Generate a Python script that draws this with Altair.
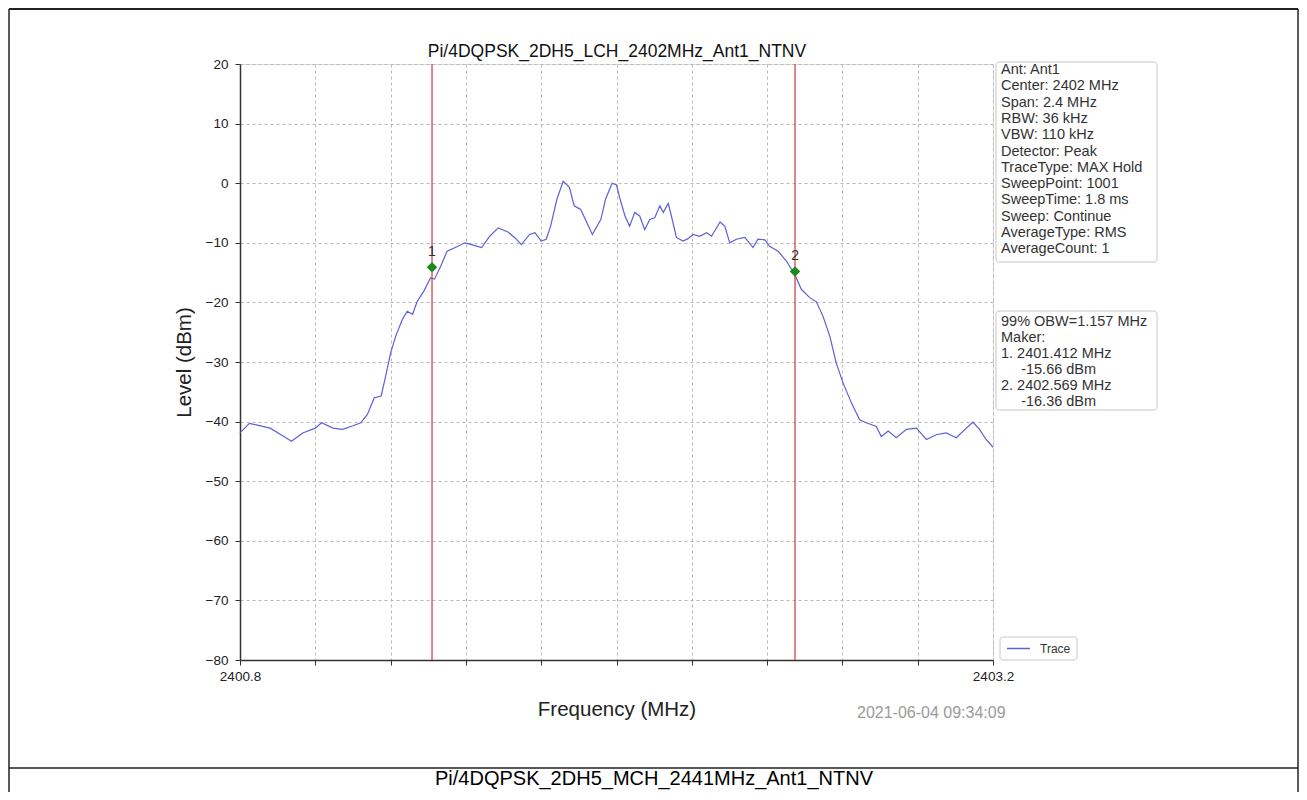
import altair as alt
import pandas as pd

# ---------------- data ----------------
freq = [2400.800, 2400.830, 2400.896, 2400.940, 2400.964, 2401.000, 2401.040, 2401.060,
        2401.096, 2401.127, 2401.160, 2401.185, 2401.206, 2401.228, 2401.250, 2401.264,
        2401.280, 2401.296, 2401.317, 2401.333, 2401.350, 2401.365, 2401.386, 2401.407,
        2401.420, 2401.440, 2401.460, 2401.486, 2401.517, 2401.538, 2401.570, 2401.596,
        2401.623, 2401.654, 2401.675, 2401.697, 2401.723, 2401.740, 2401.760, 2401.776,
        2401.790, 2401.810, 2401.830, 2401.850, 2401.865, 2401.886, 2401.923, 2401.950,
        2401.965, 2401.986, 2402.000, 2402.010, 2402.027, 2402.042, 2402.058, 2402.074,
        2402.090, 2402.106, 2402.122, 2402.138, 2402.149, 2402.165, 2402.175, 2402.191,
        2402.212, 2402.228, 2402.244, 2402.265, 2402.287, 2402.303, 2402.330, 2402.345,
        2402.361, 2402.382, 2402.409, 2402.435, 2402.451, 2402.473, 2402.488, 2402.515,
        2402.542, 2402.568, 2402.589, 2402.616, 2402.637, 2402.658, 2402.680, 2402.700,
        2402.722, 2402.749, 2402.775, 2402.796, 2402.828, 2402.844, 2402.866, 2402.892,
        2402.924, 2402.956, 2402.988, 2403.019, 2403.051, 2403.083, 2403.115, 2403.136,
        2403.157, 2403.178, 2403.200]
level = [-41.9, -40.3, -41.1, -42.5, -43.3, -41.9, -41.1, -40.2,
         -41.1, -41.3, -40.7, -40.2, -38.8, -36.0, -35.7, -32.4,
         -28.5, -25.7, -22.9, -21.5, -22.0, -19.8, -18.1, -15.9,
         -16.1, -13.9, -11.4, -10.8, -10.0, -10.3, -10.8, -8.9,
         -7.5, -8.2, -9.1, -10.3, -8.6, -8.3, -9.7, -9.4,
         -7.2, -2.7, 0.3, -0.7, -3.8, -4.4, -8.6, -6.1,
         -2.7, 0.0, -0.3, -2.4, -5.5, -7.2, -4.9, -5.5,
         -7.8, -6.1, -5.8, -3.8, -4.9, -3.4, -5.5, -9.1,
         -9.7, -9.3, -8.6, -8.9, -8.3, -8.9, -6.5, -7.2,
         -10.0, -9.4, -9.1, -10.8, -9.4, -9.5, -10.6, -11.4,
         -13.1, -15.3, -17.8, -19.2, -19.9, -22.3, -25.7, -30.1,
         -33.5, -36.9, -39.7, -40.2, -40.8, -42.5, -41.6, -42.7,
         -41.3, -41.1, -43.0, -42.2, -41.9, -42.7, -41.1, -40.1,
         -41.3, -43.0, -44.3]

marker_freq = [2401.412, 2402.569]
marker_level = [-14.1, -14.8]
marker_label = ["1", "2"]

x_ticks = [2400.8, 2401.04, 2401.28, 2401.52, 2401.76, 2402.0,
           2402.24, 2402.48, 2402.72, 2402.96, 2403.2]
y_ticks = [-80, -70, -60, -50, -40, -30, -20, -10, 0, 10, 20]

chart_title = "Pi/4DQPSK_2DH5_LCH_2402MHz_Ant1_NTNV"
caption = "Pi/4DQPSK_2DH5_MCH_2441MHz_Ant1_NTNV"
timestamp = "2021-06-04 09:34:09"
legend_label = "Trace"

info_lines = ["Ant: Ant1", "Center: 2402 MHz", "Span: 2.4 MHz", "RBW: 36 kHz",
              "VBW: 110 kHz", "Detector: Peak", "TraceType: MAX Hold",
              "SweepPoint: 1001", "SweepTime: 1.8 ms", "Sweep: Continue",
              "AverageType: RMS", "AverageCount: 1"]
INDENT = "\u200b" + "\u00a0" * 5
obw_lines = ["99% OBW=1.157 MHz", "Maker:", "1. 2401.412 MHz", INDENT + "-15.66 dBm",
             "2. 2402.569 MHz", INDENT + "-16.36 dBm"]

FONT = "Liberation Sans"
TRACE_COLOR = "#5f5fd8"

trace_df = pd.DataFrame({"freq": freq, "level": level})
marker_df = pd.DataFrame({"freq": marker_freq, "level": marker_level, "label": marker_label})
one = pd.DataFrame({"k": [0]})

xscale = alt.Scale(domain=[2400.8, 2403.2], nice=False, zero=False)
yscale = alt.Scale(domain=[-80, 20], nice=False, zero=False)

xaxis = alt.Axis(values=x_ticks, format=".1f",
                 labelExpr="(datum.value < 2400.85 || datum.value > 2403.15) ? datum.label : ''",
                 grid=True, gridDash=[3, 3], gridColor="#b8b8b8", gridWidth=1,
                 tickSize=5, tickColor="#333", labelFontSize=13.5, labelColor="#222",
                 labelPadding=4, labelOverlap=False, labelFlush=False, labelFont=FONT,
                 title="Frequency (MHz)", titleFontSize=20.5, titleFontWeight="normal",
                 titleFont=FONT, titleColor="#222", titlePadding=17,
                 domainColor="#333", domainWidth=1.5)
yaxis = alt.Axis(values=y_ticks, format="d",
                 grid=True, gridDash=[3, 3], gridColor="#b8b8b8", gridWidth=1,
                 tickSize=5, tickColor="#333", labelFontSize=13.5, labelColor="#222",
                 labelPadding=7, labelOverlap=False, labelFlush=False, labelFont=FONT,
                 title="Level (dBm)", titleFontSize=20.5, titleFontWeight="normal",
                 titleFont=FONT, titleColor="#222", titlePadding=11,
                 domainColor="#333", domainWidth=1.5)

trace = alt.Chart(trace_df).mark_line(color=TRACE_COLOR, strokeWidth=1.2).encode(
    x=alt.X("freq:Q", scale=xscale, axis=xaxis),
    y=alt.Y("level:Q", scale=yscale, axis=yaxis),
)

vlines = alt.Chart(marker_df).mark_rule(color="#d03535", strokeWidth=1.2).encode(
    x=alt.X("freq:Q", scale=xscale)
)
diamonds = alt.Chart(marker_df).mark_point(shape="diamond", filled=True, color="#1e8a1e",
                                            size=110, opacity=1).encode(
    x=alt.X("freq:Q", scale=xscale), y=alt.Y("level:Q", scale=yscale)
)
mlabels = alt.Chart(marker_df).mark_text(dy=-15, fontSize=14, color="#333", font=FONT).encode(
    x=alt.X("freq:Q", scale=xscale), y=alt.Y("level:Q", scale=yscale), text="label:N"
)

def box(x1, x2, y1, y2):
    return alt.Chart(one).mark_rect(fill="white", stroke="#c8c8c8", strokeWidth=1,
                                    cornerRadius=3).encode(
        x=alt.value(x1), x2=alt.value(x2), y=alt.value(y1), y2=alt.value(y2))

def textblock(lines, x, y, size=14.5, lh=16.3, color="#333"):
    return alt.Chart(one).mark_text(align="left", baseline="top", lineBreak="\n",
                                    lineHeight=lh, fontSize=size, font=FONT,
                                    color=color).encode(
        x=alt.value(x), y=alt.value(y), text=alt.value("\n".join(lines)))

title_mark = alt.Chart(one).mark_text(align="center", baseline="middle", fontSize=17.5,
                                      font=FONT, color="#111").encode(
    x=alt.value(377), y=alt.value(-12), text=alt.value(chart_title))

info_box = box(756, 917, -2, 198)
info_text = textblock(info_lines, 761, -1)
obw_box = box(756, 917, 247, 346)
obw_text = textblock(obw_lines, 761, 251, lh=16.0)

leg_box = box(760, 837, 573, 596)
leg_line = alt.Chart(one).mark_rule(color=TRACE_COLOR, strokeWidth=1.5).encode(
    x=alt.value(767), x2=alt.value(790), y=alt.value(584.5))
leg_text = alt.Chart(one).mark_text(align="left", baseline="middle", fontSize=12,
                                    font=FONT, color="#333").encode(
    x=alt.value(800), y=alt.value(584.5), text=alt.value(legend_label))

stamp = alt.Chart(one).mark_text(align="left", baseline="middle", fontSize=16,
                                 font=FONT, color="#9a9a9a").encode(
    x=alt.value(617), y=alt.value(649), text=alt.value(timestamp))

# page frame (document table borders)
frame_left = alt.Chart(one).mark_rule(color="#222", strokeWidth=1.5).encode(
    x=alt.value(-231), y=alt.value(-55), y2=alt.value(728))
frame_right = alt.Chart(one).mark_rule(color="#222", strokeWidth=1.5).encode(
    x=alt.value(1058), y=alt.value(-55), y2=alt.value(728))
frame_top = alt.Chart(one).mark_rule(color="#222", strokeWidth=2).encode(
    x=alt.value(-231), x2=alt.value(1058), y=alt.value(-55))
frame_mid = alt.Chart(one).mark_rule(color="#222", strokeWidth=1.5).encode(
    x=alt.value(-231), x2=alt.value(1058), y=alt.value(704))
cap = alt.Chart(one).mark_text(align="center", baseline="alphabetic", fontSize=20,
                               font=FONT, color="#000").encode(
    x=alt.value(414), y=alt.value(721), text=alt.value(caption))

chart = alt.layer(
    trace, vlines, diamonds, mlabels, title_mark,
    info_box, info_text, obw_box, obw_text,
    leg_box, leg_line, leg_text, stamp,
    frame_left, frame_right, frame_top, frame_mid, cap,
).properties(
    width=753, height=596,
    padding={"left": 232, "top": 56, "right": 306, "bottom": 132},
    autosize=alt.AutoSizeParams(type="none"),
).configure_view(stroke="#555", strokeWidth=1).configure(background="white")

chart.save("out.html", embed_options={"renderer": "svg", "actions": False})
